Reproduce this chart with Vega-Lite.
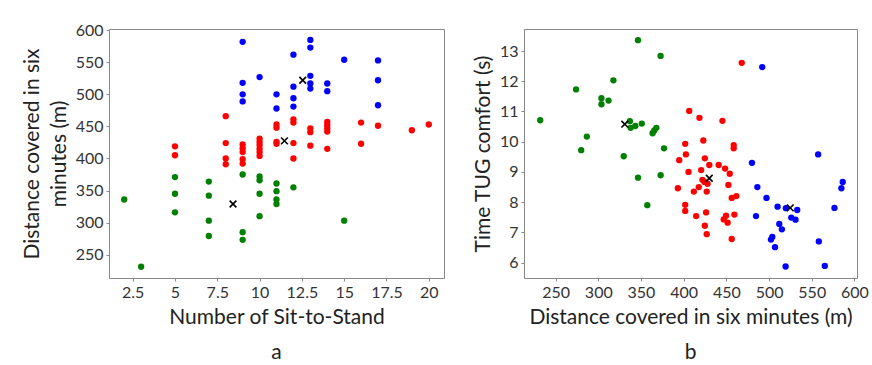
{
 "$schema": "https://vega.github.io/schema/vega-lite/v6.json",
 "background": "white",
 "padding": {"left": 20, "top": 21, "right": 5, "bottom": 0},
 "spacing": 26,
 "config": {
  "font": "Lato",
  "view": {"stroke": "#888888", "strokeWidth": 1},
  "axis": {"grid": false, "domain": false, "tickColor": "#888888", "tickSize": 3, "labelPadding": 3, "labelFontSize": 16, "labelColor": "#333333", "labelFont": "Lato", "labelOverlap": false, "labelFlush": false, "titleFont": "Lato", "titleFontSize": 21, "titleFontWeight": "normal", "titleColor": "#222222", "titleLineHeight": 27}
 },
 "datasets": {
  "a": [
   {"sts":2,"dist":336,"cluster":"g"},{"sts":3,"dist":231,"cluster":"g"},{"sts":5,"dist":371,"cluster":"g"},{"sts":5,"dist":345,"cluster":"g"},{"sts":5,"dist":316,"cluster":"g"},{"sts":7,"dist":364,"cluster":"g"},{"sts":7,"dist":342,"cluster":"g"},{"sts":7,"dist":303,"cluster":"g"},{"sts":7,"dist":279,"cluster":"g"},{"sts":9,"dist":375,"cluster":"g"},{"sts":9,"dist":285,"cluster":"g"},{"sts":9,"dist":273,"cluster":"g"},{"sts":10,"dist":372,"cluster":"g"},{"sts":10,"dist":366,"cluster":"g"},{"sts":10,"dist":345,"cluster":"g"},{"sts":10,"dist":310,"cluster":"g"},{"sts":11,"dist":361,"cluster":"g"},{"sts":11,"dist":349,"cluster":"g"},{"sts":11,"dist":336,"cluster":"g"},{"sts":11,"dist":329,"cluster":"g"},{"sts":12,"dist":355,"cluster":"g"},{"sts":15,"dist":303,"cluster":"g"},
   {"sts":5,"dist":419,"cluster":"r"},{"sts":5,"dist":405,"cluster":"r"},{"sts":8,"dist":466,"cluster":"r"},{"sts":8,"dist":424,"cluster":"r"},{"sts":8,"dist":400,"cluster":"r"},{"sts":8,"dist":391,"cluster":"r"},{"sts":9,"dist":422,"cluster":"r"},{"sts":9,"dist":416,"cluster":"r"},{"sts":9,"dist":410,"cluster":"r"},{"sts":9,"dist":399,"cluster":"r"},{"sts":9,"dist":392,"cluster":"r"},{"sts":10,"dist":431,"cluster":"r"},{"sts":10,"dist":426,"cluster":"r"},{"sts":10,"dist":421,"cluster":"r"},{"sts":10,"dist":415,"cluster":"r"},{"sts":10,"dist":410,"cluster":"r"},{"sts":10,"dist":404,"cluster":"r"},{"sts":11,"dist":453,"cluster":"r"},{"sts":11,"dist":448,"cluster":"r"},{"sts":11,"dist":426,"cluster":"r"},{"sts":11,"dist":423,"cluster":"r"},{"sts":12,"dist":461,"cluster":"r"},{"sts":12,"dist":456,"cluster":"r"},{"sts":12,"dist":424,"cluster":"r"},{"sts":12,"dist":400,"cluster":"r"},{"sts":13,"dist":447,"cluster":"r"},{"sts":13,"dist":441,"cluster":"r"},{"sts":13,"dist":420,"cluster":"r"},{"sts":14,"dist":457,"cluster":"r"},{"sts":14,"dist":452,"cluster":"r"},{"sts":14,"dist":447,"cluster":"r"},{"sts":14,"dist":442,"cluster":"r"},{"sts":14,"dist":415,"cluster":"r"},{"sts":16,"dist":456,"cluster":"r"},{"sts":16,"dist":423,"cluster":"r"},{"sts":17,"dist":451,"cluster":"r"},{"sts":19,"dist":444,"cluster":"r"},{"sts":20,"dist":453,"cluster":"r"},
   {"sts":9,"dist":582,"cluster":"b"},{"sts":9,"dist":518,"cluster":"b"},{"sts":9,"dist":500,"cluster":"b"},{"sts":9,"dist":489,"cluster":"b"},{"sts":10,"dist":527,"cluster":"b"},{"sts":11,"dist":500,"cluster":"b"},{"sts":11,"dist":478,"cluster":"b"},{"sts":12,"dist":562,"cluster":"b"},{"sts":12,"dist":512,"cluster":"b"},{"sts":12,"dist":494,"cluster":"b"},{"sts":12,"dist":481,"cluster":"b"},{"sts":13,"dist":585,"cluster":"b"},{"sts":13,"dist":573,"cluster":"b"},{"sts":13,"dist":529,"cluster":"b"},{"sts":13,"dist":517,"cluster":"b"},{"sts":13,"dist":509,"cluster":"b"},{"sts":14,"dist":517,"cluster":"b"},{"sts":14,"dist":505,"cluster":"b"},{"sts":15,"dist":554,"cluster":"b"},{"sts":17,"dist":553,"cluster":"b"},{"sts":17,"dist":522,"cluster":"b"},{"sts":17,"dist":483,"cluster":"b"}
  ],
  "ac": [
   {"sts":8.43,"dist":329},{"sts":11.47,"dist":427.5},{"sts":12.55,"dist":522}
  ],
  "b": [
   {"dist":232,"tug":10.71,"cluster":"g"},{"dist":346.5,"tug":13.36,"cluster":"g"},{"dist":373,"tug":12.84,"cluster":"g"},{"dist":317.7,"tug":12.03,"cluster":"g"},{"dist":274,"tug":11.73,"cluster":"g"},{"dist":303.7,"tug":11.44,"cluster":"g"},{"dist":303.7,"tug":11.24,"cluster":"g"},{"dist":312,"tug":11.36,"cluster":"g"},{"dist":337,"tug":10.68,"cluster":"g"},{"dist":343.4,"tug":10.52,"cluster":"g"},{"dist":351,"tug":10.6,"cluster":"g"},{"dist":337.9,"tug":10.46,"cluster":"g"},{"dist":368,"tug":10.46,"cluster":"g"},{"dist":365.6,"tug":10.37,"cluster":"g"},{"dist":363.6,"tug":10.28,"cluster":"g"},{"dist":286.6,"tug":10.17,"cluster":"g"},{"dist":280,"tug":9.72,"cluster":"g"},{"dist":377,"tug":9.78,"cluster":"g"},{"dist":329.8,"tug":9.52,"cluster":"g"},{"dist":346.5,"tug":8.81,"cluster":"g"},{"dist":373,"tug":8.89,"cluster":"g"},{"dist":357.4,"tug":7.9,"cluster":"g"},
   {"dist":468,"tug":12.61,"cluster":"r"},{"dist":406.5,"tug":11.02,"cluster":"r"},{"dist":418.5,"tug":10.79,"cluster":"r"},{"dist":445.4,"tug":10.69,"cluster":"r"},{"dist":423,"tug":10.04,"cluster":"r"},{"dist":401.8,"tug":9.93,"cluster":"r"},{"dist":458.6,"tug":9.89,"cluster":"r"},{"dist":458.6,"tug":9.78,"cluster":"r"},{"dist":402.6,"tug":9.58,"cluster":"r"},{"dist":394.8,"tug":9.39,"cluster":"r"},{"dist":424.8,"tug":9.45,"cluster":"r"},{"dist":430,"tug":9.23,"cluster":"r"},{"dist":441,"tug":9.23,"cluster":"r"},{"dist":448.5,"tug":9.11,"cluster":"r"},{"dist":454,"tug":8.94,"cluster":"r"},{"dist":405.7,"tug":9.0,"cluster":"r"},{"dist":420.5,"tug":9.06,"cluster":"r"},{"dist":422,"tug":8.74,"cluster":"r"},{"dist":428,"tug":8.61,"cluster":"r"},{"dist":424.4,"tug":8.67,"cluster":"r"},{"dist":452.4,"tug":8.57,"cluster":"r"},{"dist":393.2,"tug":8.46,"cluster":"r"},{"dist":417.7,"tug":8.5,"cluster":"r"},{"dist":411.9,"tug":8.35,"cluster":"r"},{"dist":427,"tug":8.35,"cluster":"r"},{"dist":456.3,"tug":8.14,"cluster":"r"},{"dist":461.7,"tug":8.2,"cluster":"r"},{"dist":401.8,"tug":7.91,"cluster":"r"},{"dist":401.8,"tug":7.71,"cluster":"r"},{"dist":414.6,"tug":7.54,"cluster":"r"},{"dist":426.3,"tug":7.66,"cluster":"r"},{"dist":449.6,"tug":7.55,"cluster":"r"},{"dist":446.9,"tug":7.43,"cluster":"r"},{"dist":451.5,"tug":7.32,"cluster":"r"},{"dist":459.4,"tug":7.59,"cluster":"r"},{"dist":424.8,"tug":7.22,"cluster":"r"},{"dist":427,"tug":6.94,"cluster":"r"},{"dist":456.3,"tug":6.78,"cluster":"r"},
   {"dist":492,"tug":12.47,"cluster":"b"},{"dist":557.5,"tug":9.58,"cluster":"b"},{"dist":480,"tug":9.3,"cluster":"b"},{"dist":586.3,"tug":8.67,"cluster":"b"},{"dist":584.7,"tug":8.46,"cluster":"b"},{"dist":486.3,"tug":8.5,"cluster":"b"},{"dist":497,"tug":8.14,"cluster":"b"},{"dist":510,"tug":7.85,"cluster":"b"},{"dist":519.7,"tug":7.8,"cluster":"b"},{"dist":533,"tug":7.74,"cluster":"b"},{"dist":576.6,"tug":7.81,"cluster":"b"},{"dist":484.7,"tug":7.54,"cluster":"b"},{"dist":526,"tug":7.49,"cluster":"b"},{"dist":531,"tug":7.42,"cluster":"b"},{"dist":512,"tug":7.28,"cluster":"b"},{"dist":515,"tug":7.1,"cluster":"b"},{"dist":503.8,"tug":6.85,"cluster":"b"},{"dist":502.2,"tug":6.76,"cluster":"b"},{"dist":507,"tug":6.51,"cluster":"b"},{"dist":558.3,"tug":6.7,"cluster":"b"},{"dist":519.4,"tug":5.87,"cluster":"b"},{"dist":565.3,"tug":5.89,"cluster":"b"}
  ],
  "bc": [
   {"dist":331,"tug":10.58},{"dist":430,"tug":8.79},{"dist":524.8,"tug":7.81}
  ]
 },
 "hconcat": [
  {
   "width": 335, "height": 249,
   "title": {"text": "a", "orient": "bottom", "anchor": "middle", "fontSize": 21, "fontWeight": "normal", "font": "Lato", "color": "#222222", "offset": 15},
   "encoding": {
    "x": {"field": "sts", "type": "quantitative", "scale": {"domain": [1.1, 20.9], "nice": false, "zero": false}, "axis": {"values": [2.5, 5, 7.5, 10, 12.5, 15, 17.5, 20], "format": ".3~g", "labelOverlap": false, "title": "Number of Sit-to-Stand", "titlePadding": 6}},
    "y": {"field": "dist", "type": "quantitative", "scale": {"domain": [213.5, 602], "nice": false, "zero": false}, "axis": {"values": [250, 300, 350, 400, 450, 500, 550, 600], "format": "d", "labelOverlap": false, "title": ["Distance covered in six", "minutes (m)"], "titlePadding": 6}}
   },
   "layer": [
    {
     "data": {"name": "a"},
     "mark": {"type": "circle", "size": 40, "opacity": 1},
     "encoding": {
      "color": {"field": "cluster", "type": "nominal", "scale": {"domain": ["g", "r", "b"], "range": ["#008000", "#ff0000", "#0000ff"]}, "legend": null}
     }
    },
    {
     "data": {"name": "ac"},
     "mark": {"type": "point", "shape": "M-1,-1L1,1M-1,1L1,-1", "filled": false, "stroke": "#000000", "strokeWidth": 1.6, "size": 45, "opacity": 1},
     "encoding": {}
    }
   ]
  },
  {
   "width": 333, "height": 249,
   "title": {"text": "b", "orient": "bottom", "anchor": "middle", "fontSize": 21, "fontWeight": "normal", "font": "Lato", "color": "#222222", "offset": 15},
   "encoding": {
    "x": {"field": "dist", "type": "quantitative", "scale": {"domain": [213, 603], "nice": false, "zero": false}, "axis": {"values": [250, 300, 350, 400, 450, 500, 550, 600], "format": "d", "labelOverlap": false, "title": "Distance covered in six minutes (m)", "titlePadding": 6}},
    "y": {"field": "tug", "type": "quantitative", "scale": {"domain": [5.49, 13.73], "nice": false, "zero": false}, "axis": {"values": [6, 7, 8, 9, 10, 11, 12, 13], "format": "d", "labelOverlap": false, "title": "Time TUG comfort (s)", "titlePadding": 6}}
   },
   "layer": [
    {
     "data": {"name": "b"},
     "mark": {"type": "circle", "size": 40, "opacity": 1},
     "encoding": {
      "color": {"field": "cluster", "type": "nominal", "scale": {"domain": ["g", "r", "b"], "range": ["#008000", "#ff0000", "#0000ff"]}, "legend": null}
     }
    },
    {
     "data": {"name": "bc"},
     "mark": {"type": "point", "shape": "M-1,-1L1,1M-1,1L1,-1", "filled": false, "stroke": "#000000", "strokeWidth": 1.6, "size": 45, "opacity": 1},
     "encoding": {}
    }
   ]
  }
 ]
}
